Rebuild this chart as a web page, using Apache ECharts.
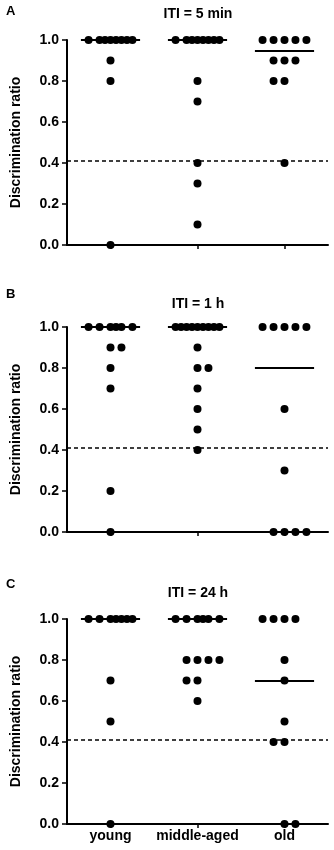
<!DOCTYPE html>
<html>
<head>
<meta charset="utf-8">
<script src="https://cdn.jsdelivr.net/npm/echarts@6/dist/echarts.min.js"></script>
<style>
  html, body { margin: 0; padding: 0; background: #fff; }
  #chart { width: 334px; height: 850px; }
</style>
</head>
<body>
<div id="chart"></div>
<script>
// groups on the x axis
const groups = ['young', 'middle-aged', 'old'];
const panelLetters = ['A', 'B', 'C'];
const panelTitles = ['ITI = 5 min', 'ITI = 1 h', 'ITI = 24 h'];
const chanceLevel = 0.41;

// discrimination ratios, with horizontal spread (in dot widths) as drawn
const youngA = [1, 1, 1, 1, 1, 1, 1, 1, 0.9, 0.8, 0];
const youngAx = [-2, -1, -0.5, 0, 0.5, 1, 1.5, 2, 0, 0, 0];
const middleA = [1, 1, 1, 1, 1, 1, 1, 1, 0.8, 0.7, 0.4, 0.3, 0.1];
const middleAx = [-2, -1, -0.5, 0, 0.5, 1, 1.5, 2, 0, 0, 0, 0, 0];
const oldA = [1, 1, 1, 1, 1, 0.9, 0.9, 0.9, 0.8, 0.8, 0.4];
const oldAx = [-2, -1, 0, 1, 2, -1, 0, 1, -1, 0, 0];
const mediansA = [1, 1, 0.95];

const youngB = [1, 1, 1, 1, 1, 1, 0.9, 0.9, 0.8, 0.7, 0.2, 0];
const youngBx = [-2, -1, 0, 0.5, 1, 2, 0, 1, 0, 0, 0, 0];
const middleB = [1, 1, 1, 1, 1, 1, 1, 1, 1, 0.9, 0.8, 0.8, 0.7, 0.6, 0.5, 0.4];
const middleBx = [-2, -1.5, -1, -0.5, 0, 0.5, 1, 1.5, 2, 0, 0, 1, 0, 0, 0, 0];
const oldB = [1, 1, 1, 1, 1, 0.6, 0.3, 0, 0, 0, 0];
const oldBx = [-2, -1, 0, 1, 2, 0, 0, -1, 0, 1, 2];
const mediansB = [1, 1, 0.8];

const youngC = [1, 1, 1, 1, 1, 1, 1, 0.7, 0.5, 0];
const youngCx = [-2, -1, 0, 0.5, 1, 1.5, 2, 0, 0, 0];
const middleC = [1, 1, 1, 1, 1, 1, 0.8, 0.8, 0.8, 0.8, 0.7, 0.7, 0.6];
const middleCx = [-2, -1, 0, 0.5, 1, 2, -1, 0, 1, 2, -1, 0, 0];
const oldC = [1, 1, 1, 1, 0.8, 0.7, 0.5, 0.4, 0.4, 0, 0];
const oldCx = [-2, -1, 0, 1, 0, 0, 0, -1, 0, 0, 1];
const mediansC = [1, 1, 0.7];

const panels = [
  { values: [youngA, middleA, oldA], spread: [youngAx, middleAx, oldAx], medians: mediansA },
  { values: [youngB, middleB, oldB], spread: [youngBx, middleBx, oldBx], medians: mediansB },
  { values: [youngC, middleC, oldC], spread: [youngCx, middleCx, oldCx], medians: mediansC }
];

const FONT = '"Liberation Sans", Arial, sans-serif';
const dotStep = 0.126;      // one dot width in category units
const medianHalf = 0.34;
const gridTops = [40, 327, 619];
const letterTops = [5, 288, 578];
const titleTops = [7, 297, 586];

const chart = echarts.init(document.getElementById('chart'));

const grid = [], xAxis = [], yAxis = [], title = [], series = [];

panels.forEach((p, pi) => {
  grid.push({ left: 67, width: 261, top: gridTops[pi], height: 205 });
  title.push({
    text: panelLetters[pi], left: 6, top: letterTops[pi], padding: 0,
    textStyle: { fontFamily: FONT, fontSize: 13, fontWeight: 'bold', color: '#000' }
  });
  title.push({
    text: panelTitles[pi], left: 198, top: titleTops[pi], textAlign: 'center', padding: 0,
    textStyle: { fontFamily: FONT, fontSize: 14, fontWeight: 'bold', color: '#000' }
  });
  xAxis.push({
    type: 'value', gridIndex: pi, min: 0.5, max: 3.5,
    splitLine: { show: false },
    axisLine: { show: true, onZero: false, lineStyle: { color: '#000', width: 2 } },
    axisTick: { show: true, customValues: [1, 2, 3], length: 4, lineStyle: { color: '#000', width: 1.5 } },
    axisLabel: {
      show: pi === 2, customValues: [1, 2, 3], margin: 5,
      formatter: v => groups[Math.round(v) - 1],
      fontFamily: FONT, fontSize: 14, fontWeight: 'bold', color: '#000'
    }
  });
  yAxis.push({
    type: 'value', gridIndex: pi, min: 0, max: 1, interval: 0.2,
    name: 'Discrimination ratio', nameLocation: 'middle', nameGap: 44,
    nameTextStyle: { fontFamily: FONT, fontSize: 14, fontWeight: 'bold', color: '#000' },
    splitLine: { show: false },
    axisLine: { show: true, lineStyle: { color: '#000', width: 2 } },
    axisTick: { show: true, length: 5, lineStyle: { color: '#000', width: 1.5 } },
    axisLabel: {
      margin: 8, formatter: v => v.toFixed(1),
      fontFamily: FONT, fontSize: 14, fontWeight: 'bold', color: '#000'
    }
  });

  p.values.forEach((vals, gi) => {
    const cx = gi + 1;
    const lines = [[
      { coord: [cx - medianHalf, p.medians[gi]] },
      { coord: [cx + medianHalf, p.medians[gi]] }
    ]];
    if (gi === 0) {
      lines.push({ yAxis: chanceLevel, lineStyle: { type: [4, 3], width: 1.5, color: '#000' } });
    }
    series.push({
      type: 'scatter', xAxisIndex: pi, yAxisIndex: pi,
      symbol: 'circle', symbolSize: 8, clip: false, z: 3,
      itemStyle: { color: '#000', opacity: 1 },
      data: vals.map((v, i) => [cx + p.spread[gi][i] * dotStep, v]),
      markLine: {
        silent: true, symbol: ['none', 'none'], animation: false,
        label: { show: false },
        lineStyle: { color: '#000', width: 2, type: 'solid' },
        data: lines
      }
    });
  });
});

chart.setOption({
  animation: false,
  backgroundColor: '#fff',
  title, grid, xAxis, yAxis, series
});
</script>
</body>
</html>
